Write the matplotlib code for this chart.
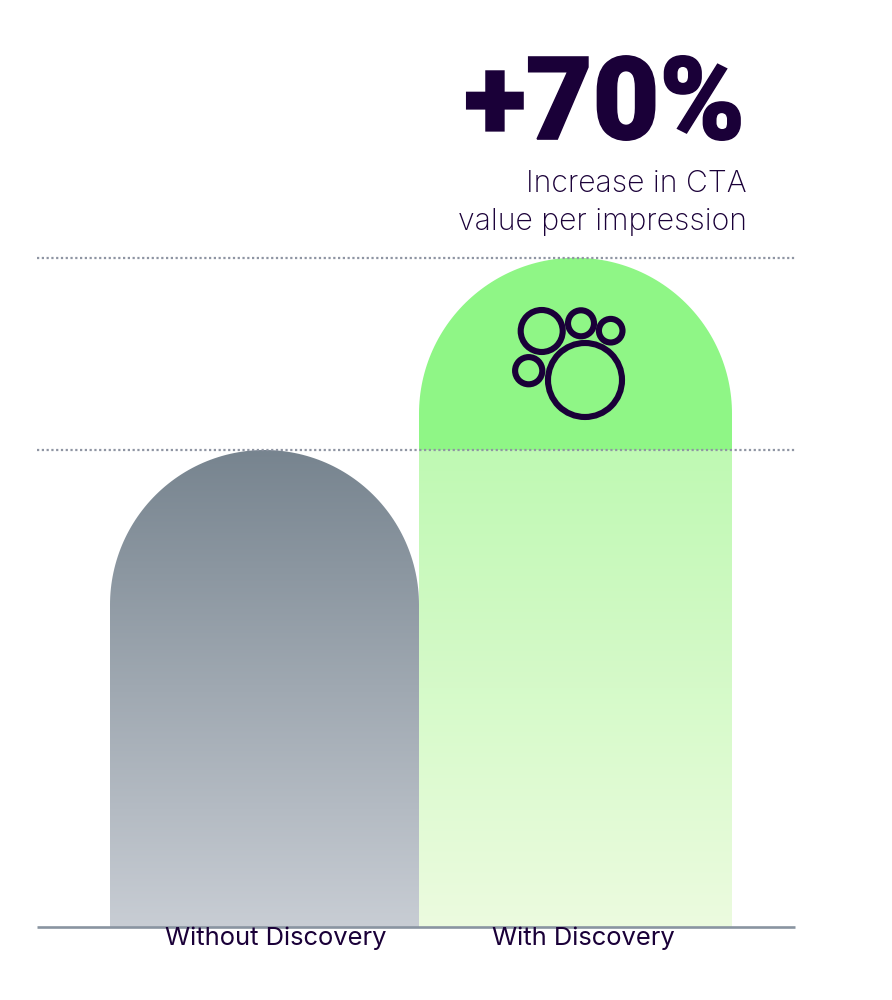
import numpy as np
import matplotlib
matplotlib.use("Agg")
import matplotlib.pyplot as plt
import matplotlib.patheffects as pe
from matplotlib.colors import to_rgb
from matplotlib.patches import Circle, PathPatch
from matplotlib.path import Path
from matplotlib.transforms import Affine2D

categories = ["Without Discovery", "With Discovery"]
values = [100.0, 140.3]
headline = "+70%"
subtitle = "Increase in CTA\nvalue per impression"

INK = "#1A0038"
W, H = 892, 1000
BASE_PX, SCALE_Y = 927, 4.77
X0_PX, SCALE_X = 264.5, 311.0

fig = plt.figure(figsize=(W / 100, H / 100), dpi=100, facecolor="white")
ax = fig.add_axes([0, 0, 1, 1])
ax.axis("off")
px = Affine2D().scale(1, -1).translate(0, H)


def dome(center, width, top, radius_px):
    hw = width / 2
    rx, ry = radius_px / SCALE_X, radius_px / SCALE_Y
    t = np.linspace(np.pi, 0, 120)
    xs = np.r_[center - hw, center + rx * np.cos(t) * (hw / rx), center + hw, center - hw]
    ys = np.r_[0, top - ry + ry * np.sin(t), 0, 0]
    return Path(np.c_[xs, ys], closed=True)


def gradient_bar(center, width, top, radius_px, top_col, bot_col, solid_above=None, solid_col=None):
    n = 600
    ys = np.linspace(top, 0, n)
    g_top = solid_above if solid_above is not None else top
    f = np.clip((g_top - ys) / g_top, 0, 1)[:, None]
    img = (1 - f) * np.array(to_rgb(top_col)) + f * np.array(to_rgb(bot_col))
    if solid_above is not None:
        img[ys > solid_above] = to_rgb(solid_col)
    im = ax.imshow(img[:, None, :], extent=[center - width / 2, center + width / 2, 0, top],
                   aspect="auto", interpolation="nearest", zorder=2)
    patch = PathPatch(dome(center, width, top, radius_px), fc="none", ec="none", transform=ax.transData)
    ax.add_patch(patch)
    im.set_clip_path(patch)


gradient_bar(0, 309 / SCALE_X, values[0], 155, "#77848F", "#C8CDD4")
gradient_bar(1, 313 / SCALE_X, values[1], 156, "#BFF9B3", "#ECFBDF", solid_above=values[0], solid_col="#8FF686")
ax.set_xlim(-X0_PX / SCALE_X, (W - X0_PX) / SCALE_X)
ax.set_ylim(-(H - BASE_PX) / SCALE_Y, BASE_PX / SCALE_Y)

x_a, x_b = (37 - X0_PX) / SCALE_X, (795 - X0_PX) / SCALE_X
for v in values:
    ax.plot([x_a, x_b], [v, v], color="#8F95A3", lw=1.6, ls=(0, (1.0, 1.15)), zorder=3)
ax.plot([x_a, x_b], [0, 0], color="#8994A1", lw=1.9, zorder=3, solid_capstyle="butt")

# icon
for cx, cy, r in [(585, 380, 37.0), (541.7, 331, 21.0), (581, 323.3, 13.0), (610.7, 330.7, 11.8), (528.7, 370.7, 13.6)]:
    ax.add_patch(Circle((cx, cy), r, transform=px, fc="none", ec=INK, lw=4.4, zorder=4))

ax.text(745, 139, headline, transform=px, ha="right", va="baseline", color=INK,
        fontsize=83, fontweight=900, family=["Roboto", "DejaVu Sans"], zorder=5,
        path_effects=[pe.withStroke(linewidth=1.2, foreground=INK, joinstyle="miter")])
for line, y in zip(subtitle.split("\n"), [192, 230]):
    ax.text(747, y, line, transform=px, ha="right", va="baseline", color=INK,
            fontsize=21.8, fontweight="light", family=["Inter", "DejaVu Sans"], zorder=5)
for cx, name in zip([275.5, 583.5], categories):
    ax.text(cx, 945, name, transform=px, ha="center", va="baseline", color=INK,
            fontsize=18.4, family=["Inter", "DejaVu Sans"], zorder=5)

fig.savefig("out.png", dpi=100, facecolor="white")
